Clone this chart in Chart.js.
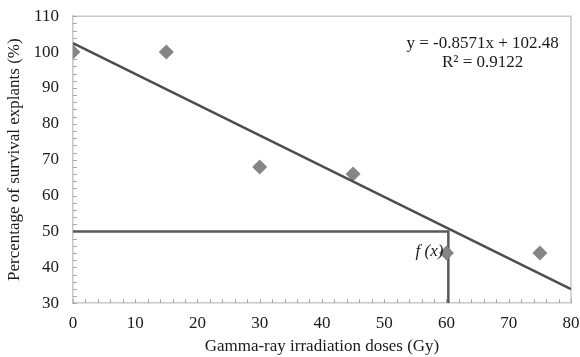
<!DOCTYPE html>
<html><head><meta charset="utf-8">
<script src="https://cdn.jsdelivr.net/npm/chart.js@4"></script>
<style>html,body{margin:0;padding:0;background:#fff}#w{width:580px;height:357px}</style>
</head><body><div id="w"><canvas id="c"></canvas></div>
<script>
const doses = [0, 15, 30, 45, 60, 75];
const survival = [100, 100, 68, 66, 44, 44];
const trendX = [0, 80];
const trendY = [102.48, 33.91];
const guideX = [0, 60.3, 60.3];
const guideY = [50, 50, 30];
const xTicks = [0, 10, 20, 30, 40, 50, 60, 70, 80];
const yTicks = [30, 40, 50, 60, 70, 80, 90, 100, 110];
const equationText = ["y = -0.8571x + 102.48", "R² = 0.9122"];
const fxLabel = "f (x)";

const serif = "'Liberation Serif', 'Times New Roman', serif";
const FS = 17;
const toPts = (xs, ys) => xs.map((x, i) => ({x, y: ys[i]}));

const decor = {
  id: 'decor',
  beforeDatasetsDraw(chart) {
    const {ctx, chartArea: a, scales: {x, y}} = chart;
    ctx.save();
    ctx.strokeStyle = '#c8c8c8';
    ctx.lineWidth = 1.5;
    ctx.beginPath();
    ctx.moveTo(a.left, a.top); ctx.lineTo(a.right, a.top); ctx.lineTo(a.right, a.bottom);
    ctx.stroke();
    ctx.lineWidth = 1;
    ctx.strokeStyle = '#a8a8a8';
    ctx.beginPath();
    for (let v = x.min; v <= x.max; v += 2) {
      const px = Math.round(x.getPixelForValue(v)) + 0.5;
      ctx.moveTo(px, a.bottom); ctx.lineTo(px, a.bottom - 4);
    }
    for (let v = y.min; v <= y.max; v += 2) {
      const py = Math.round(y.getPixelForValue(v)) + 0.5;
      ctx.moveTo(a.left, py); ctx.lineTo(a.left + 4, py);
    }
    ctx.stroke();
    ctx.restore();
  },
  afterDatasetsDraw(chart) {
    const {ctx, scales: {x, y}} = chart;
    ctx.save();
    ctx.fillStyle = '#1a1a1a';
    ctx.font = FS + "px " + serif;
    ctx.textAlign = 'center';
    ctx.textBaseline = 'middle';
    const cx = x.getPixelForValue(65.8);
    ctx.fillText(equationText[0], cx, y.getPixelForValue(102.5));
    ctx.fillText(equationText[1], cx, y.getPixelForValue(97.1));
    ctx.font = "italic " + FS + "px " + serif;
    ctx.textAlign = 'right';
    ctx.fillText(fxLabel, x.getPixelForValue(59.5), y.getPixelForValue(44.5));
    ctx.restore();
  }
};

new Chart(document.getElementById('c'), {
  type: 'scatter',
  data: {
    datasets: [
      {label: 'guide', type: 'line', data: toPts(guideX, guideY), borderColor: '#595959', borderWidth: 2.5, pointRadius: 0, fill: false, tension: 0, order: 4},
      {label: 'pointsBack', data: toPts(doses, survival), backgroundColor: '#b0b0b0', borderColor: '#b0b0b0', pointStyle: 'rect', pointRadius: 5.5, borderWidth: 0, order: 3},
      {label: 'points', data: toPts(doses, survival), backgroundColor: '#858585', borderColor: '#858585', pointStyle: 'rectRot', pointRadius: 7.5, borderWidth: 0, order: 2},
      {label: 'trend', type: 'line', data: toPts(trendX, trendY), borderColor: '#4d4d4d', borderWidth: 2.5, pointRadius: 0, fill: false, tension: 0, order: 1}
    ]
  },
  options: {
    responsive: true, maintainAspectRatio: false, animation: false,
    layout: {padding: {left: 4, right: 0, top: 7, bottom: 0}},
    plugins: {legend: {display: false}, tooltip: {enabled: false}},
    scales: {
      x: {
        type: 'linear', min: 0, max: 80,
        afterBuildTicks: s => { s.ticks = xTicks.map(v => ({value: v})); },
        afterFit: s => { s.paddingRight = 9; },
        grid: {display: false},
        border: {display: true, color: '#c8c8c8', width: 1.5},
        ticks: {color: '#1a1a1a', font: {family: serif, size: FS}, padding: 2, maxRotation: 0},
        title: {display: true, text: 'Gamma-ray irradiation doses (Gy)', color: '#1a1a1a', font: {family: serif, size: FS}, padding: {top: 1, bottom: 0}}
      },
      y: {
        type: 'linear', min: 30, max: 110,
        afterBuildTicks: s => { s.ticks = yTicks.map(v => ({value: v})); },
        grid: {display: false},
        border: {display: true, color: '#c8c8c8', width: 1.5},
        ticks: {color: '#1a1a1a', font: {family: serif, size: FS}, padding: 6},
        title: {display: true, text: 'Percentage of survival explants (%)', color: '#1a1a1a', font: {family: serif, size: FS}, padding: {top: 0, bottom: 3}}
      }
    }
  },
  plugins: [decor]
});
</script></body></html>
